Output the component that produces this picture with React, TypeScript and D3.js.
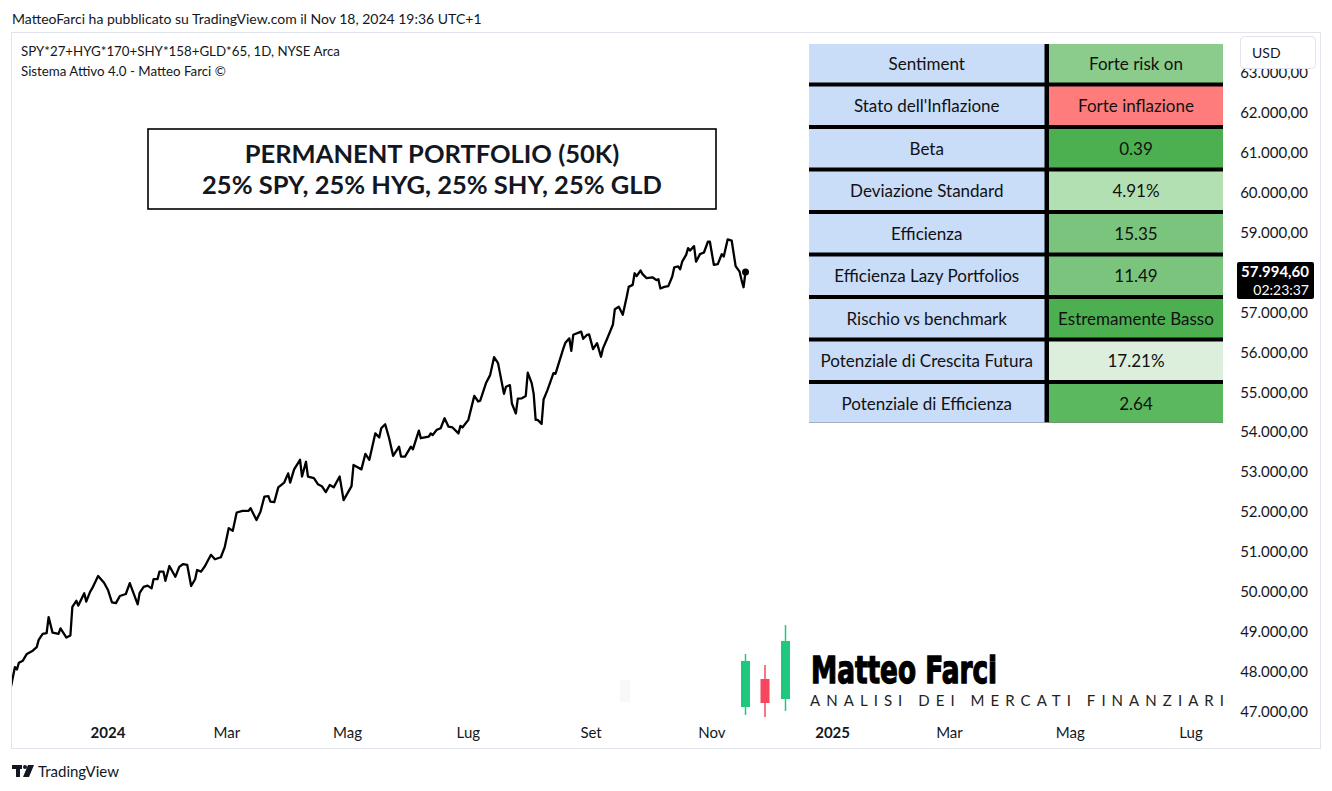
import React from "react";
import * as d3 from "d3";

// days since 2024-01-01 (UTC) of each plotted close
const START = Date.UTC(2024, 0, 1);
const dayOffsets = [
  -49, -47, -46, -45, -43, -41, -38, -36, -35, -33, -31, -30, -28, -25, -24, -21, -19, -18, -16, -15,
  -12, -11, -9, -8, -5, -2, 0, 2, 4, 6, 9, 11, 15, 16, 18, 20, 22, 23, 25, 26,
  28, 29, 31, 34, 36, 38, 40, 42, 44, 45, 47, 49, 51, 52, 54, 57, 59, 61, 63, 65,
  68, 71, 72, 75, 77, 79, 81, 82, 84, 86, 89, 91, 92, 94, 97, 98, 100, 101, 104, 106,
  108, 110, 112, 114, 117, 119, 123, 124, 128, 130, 132, 135, 137, 138, 140, 142, 144, 147, 148, 150,
  153, 154, 157, 158, 162, 163, 164, 166, 168, 170, 172, 174, 177, 178, 179, 182, 185, 187, 188, 191,
  193, 195, 197, 200, 201, 203, 204, 206, 207, 209, 211, 212, 214, 215, 216, 217, 219, 220, 222, 225,
  226, 230, 231, 233, 234, 235, 239, 240, 242, 243, 245, 247, 249, 250, 252, 255, 256, 258, 260, 262,
  263, 265, 266, 267, 269, 270, 272, 275, 277, 278, 279, 281, 283, 285, 286, 288, 289, 290, 292, 293,
  294, 296, 297, 299, 301, 303, 304, 306, 308, 310, 311, 313, 315, 317, 319, 320, 321, 322,
];
const portfolioValues = [
  47610, 48100, 48040, 48210, 48260, 48430, 48510, 48600, 48780, 48930, 48950, 49350, 48960, 48930, 49070, 48840, 48890, 49610, 49760, 49640,
  49950, 49740, 49990, 50070, 50380, 50210, 50030, 49720, 49700, 49880, 49930, 50200, 49670, 49960, 50110, 50140, 50070, 50300, 50300, 50490,
  50490, 50260, 50630, 50360, 50610, 50680, 50660, 50130, 50300, 50530, 50490, 50630, 50820, 50910, 50800, 50850, 51110, 51580, 51510, 51970,
  52010, 52010, 52080, 51780, 51990, 52370, 52380, 52240, 52230, 52600, 52720, 52950, 52720, 53050, 53290, 52870, 53240, 52870, 52830, 52680,
  52630, 52480, 52660, 52600, 52870, 52280, 52630, 53160, 53050, 53440, 53290, 53950, 53850, 54080, 54180, 53830, 53390, 53620, 53370, 53370,
  53620, 53550, 54020, 53830, 53870, 53950, 53910, 54040, 54080, 54330, 54120, 54100, 53950, 54140, 54100, 54290, 54890, 54750, 54770, 55220,
  55410, 55860, 55710, 54940, 55120, 55160, 54700, 54450, 54820, 54830, 54890, 55470, 55210, 54940, 54290, 54290, 54190, 54800, 55040, 55460,
  55440, 56080, 56220, 56330, 56020, 56420, 56500, 56320, 56420, 56430, 56060, 56210, 55870, 56080, 56310, 56670, 57060, 57120, 56920, 57370,
  57620, 57670, 57960, 57890, 58030, 57940, 57840, 57860, 57790, 57810, 57580, 57620, 57640, 57880, 58110, 58130, 58060, 58250, 58420, 58590,
  58530, 58640, 58250, 58440, 58480, 58750, 58750, 58170, 58190, 58440, 58380, 58810, 58780, 58140, 58000, 57790, 57610, 57994.6,
];

const priceTicks = d3.range(47000, 63001, 1000);
const monthNames = ["Gen", "Feb", "Mar", "Apr", "Mag", "Giu", "Lug", "Ago", "Set", "Ott", "Nov", "Dic"];

const tableLabels = [
  "Sentiment",
  "Stato dell'Inflazione",
  "Beta",
  "Deviazione Standard",
  "Efficienza",
  "Efficienza Lazy Portfolios",
  "Rischio vs benchmark",
  "Potenziale di Crescita Futura",
  "Potenziale di Efficienza",
];
const tableValues = [
  "Forte risk on",
  "Forte inflazione",
  "0.39",
  "4.91%",
  "15.35",
  "11.49",
  "Estremamente Basso",
  "17.21%",
  "2.64",
];
const tableColors = [
  "#8bcb8b",
  "#ff7c7c",
  "#4caf50",
  "#b3e0b3",
  "#7bc47e",
  "#7bc47e",
  "#4caf50",
  "#dcefdc",
  "#5cb85f",
];

const titleLines = ["PERMANENT PORTFOLIO (50K)", "25% SPY, 25% HYG, 25% SHY, 25% GLD"];
const headerText = "MatteoFarci ha pubblicato su TradingView.com il Nov 18, 2024 19:36 UTC+1";
const legendLines = ["SPY*27+HYG*170+SHY*158+GLD*65, 1D, NYSE Arca", "Sistema Attivo 4.0 - Matteo Farci ©"];
const countdown = "02:23:37";

const FONT = "Lato, 'Noto Sans', sans-serif";
const TXT = "#131722";

export default function App() {
  const W = 1332;
  const H = 791;
  const x = d3
    .scaleUtc()
    .domain([new Date(START), new Date(Date.UTC(2025, 6, 1))])
    .range([108, 1191]);
  const y = d3.scaleLinear().domain([47000, 63000]).range([711, 72]);

  const data = dayOffsets.map((d, i) => ({ date: new Date(START + d * 864e5), value: portfolioValues[i] }));
  const line = d3
    .line<{ date: Date; value: number }>()
    .x((d) => x(d.date))
    .y((d) => y(d.value));
  const last = data[data.length - 1];

  const fmt = d3
    .formatLocale({ decimal: ",", thousands: ".", grouping: [3], currency: ["", ""] })
    .format(",.2f");
  const months = d3.utcMonth.every(2)!.range(new Date(START), new Date(Date.UTC(2025, 6, 2)));

  const tTop = 44;
  const pitch = 42.5;
  const cellH = 38.5;
  const tLeft = 809;
  const tMid = 1044.5;
  const tMid2 = 1049;
  const tRight = 1223;

  return (
    <svg
      width={W}
      height={H}
      viewBox={`0 0 ${W} ${H}`}
      style={{ position: "absolute", left: 0, top: 0, display: "block", background: "#fff" }}
    >
      <defs>
        <clipPath id="plot">
          <rect x={12} y={33} width={1220} height={682} />
        </clipPath>
      </defs>
      <rect x={0} y={0} width={W} height={H} fill="#fff" />

      {/* header */}
      <text x={12} y={18} dominantBaseline="central" fontFamily={FONT} fontSize={14} fill={TXT}>
        {headerText}
      </text>

      {/* chart panel */}
      <rect x={11.5} y={32.5} width={1309} height={716} fill="#fff" stroke="#e0e3eb" strokeWidth={1} />

      {/* legend */}
      {legendLines.map((t, i) => (
        <text key={i} x={21} y={51 + i * 20} dominantBaseline="central" fontFamily={FONT} fontSize={13.3} fill={TXT}>
          {t}
        </text>
      ))}

      {/* faint watermark blob */}
      <rect x={620} y={680} width={10} height={22} fill="#f8f8f8" />

      {/* price axis labels */}
      {priceTicks.map((v) => (
        <text
          key={v}
          x={1308}
          y={y(v)}
          textAnchor="end"
          dominantBaseline="central"
          fontFamily={FONT}
          fontSize={15}
          fill={TXT}
        >
          {fmt(v)}
        </text>
      ))}

      {/* USD button */}
      <rect x={1240.5} y={36.5} width={75} height={32} rx={4} fill="#fff" stroke="#e0e3eb" />
      <text x={1252} y={52} dominantBaseline="central" fontFamily={FONT} fontSize={14} fill={TXT}>
        USD
      </text>

      {/* time axis labels */}
      {months.map((m, i) => {
        const isYear = m.getUTCMonth() === 0;
        return (
          <text
            key={i}
            x={x(m)}
            y={732}
            textAnchor="middle"
            dominantBaseline="central"
            fontFamily={FONT}
            fontSize={15}
            fontWeight={isYear ? 700 : 400}
            fill={TXT}
          >
            {isYear ? String(m.getUTCFullYear()) : monthNames[m.getUTCMonth()]}
          </text>
        );
      })}

      {/* title box */}
      <rect x={148} y={129} width={568} height={80} fill="#fff" stroke="#000" strokeWidth={1.6} />
      {titleLines.map((t, i) => (
        <text
          key={i}
          x={432}
          y={163 + i * 31}
          textAnchor="middle"
          fontFamily={FONT}
          fontWeight={700}
          fontSize={25.5}
          fill="#131722"
        >
          {t}
        </text>
      ))}

      {/* line */}
      <g clipPath="url(#plot)">
        <path d={line(data) || ""} fill="none" stroke="#000" strokeWidth={2.3} strokeLinejoin="round" />
        <circle cx={x(last.date)} cy={y(last.value)} r={3.5} fill="#000" />
      </g>

      {/* table */}
      <rect x={tLeft} y={tTop} width={tRight - tLeft} height={pitch * 8 + cellH} fill="#000" />
      {tableLabels.map((lab, i) => {
        const y0 = tTop + i * pitch;
        return (
          <g key={i}>
            <rect x={tLeft} y={y0} width={tMid - tLeft} height={cellH} fill="#c9dcf8" />
            <rect x={tMid2} y={y0} width={tRight - tMid2} height={cellH} fill={tableColors[i]} />
            <text
              x={(tLeft + tMid) / 2}
              y={y0 + cellH / 2}
              textAnchor="middle"
              dominantBaseline="central"
              fontFamily={FONT}
              fontSize={17}
              fill="#111"
            >
              {lab}
            </text>
            <text
              x={(tMid2 + tRight) / 2}
              y={y0 + cellH / 2}
              textAnchor="middle"
              dominantBaseline="central"
              fontFamily={FONT}
              fontSize={17}
              fill="#111"
            >
              {tableValues[i]}
            </text>
          </g>
        );
      })}

      {/* last price label */}
      <rect x={1237} y={262} width={77} height={37} rx={2} fill="#000" />
      <text x={1309} y={271} textAnchor="end" dominantBaseline="central" fontFamily={FONT} fontSize={15} fontWeight={700} fill="#fff">
        {fmt(last.value)}
      </text>
      <text x={1309} y={289} textAnchor="end" dominantBaseline="central" fontFamily={FONT} fontSize={14} fill="#fff">
        {countdown}
      </text>

      {/* Matteo Farci logo */}
      <g>
        <line x1={745.5} x2={745.5} y1={654} y2={715} stroke="#1ec97e" strokeWidth={1.5} />
        <rect x={741} y={661} width={9} height={46} fill="#1ec97e" />
        <line x1={765} x2={765} y1={665} y2={717} stroke="#f5475d" strokeWidth={1.5} />
        <rect x={760.5} y={679} width={9} height={24} fill="#f5475d" />
        <line x1={785.5} x2={785.5} y1={625} y2={711} stroke="#1ec97e" strokeWidth={1.5} />
        <rect x={781} y={641} width={9} height={58} fill="#1ec97e" />
        <text
          x={811}
          y={682.5}
          fontFamily="'DejaVu Sans', sans-serif"
          fontWeight={700}
          fontSize={38}
          fill="#000"
          stroke="#000"
          strokeWidth={1.4}
          textLength={186}
          lengthAdjust="spacingAndGlyphs"
        >
          Matteo Farci
        </text>
        <text
          x={810}
          y={706}
          fontFamily={FONT}
          fontSize={15}
          fill="#222"
          textLength={414}
          lengthAdjust="spacing"
        >
          ANALISI DEI MERCATI FINANZIARI
        </text>
      </g>

      {/* TradingView footer */}
      <g fill="#131722">
        <rect x={12} y={765} width={10} height={4} />
        <rect x={16} y={765} width={4} height={12} />
        <circle cx={25} cy={767} r={2} />
        <path d="M28 765 L34 765 L29 777 L23 777 Z" />
      </g>
      <text x={38} y={771} dominantBaseline="central" fontFamily={FONT} fontSize={15} fill={TXT}>
        TradingView
      </text>
    </svg>
  );
}
